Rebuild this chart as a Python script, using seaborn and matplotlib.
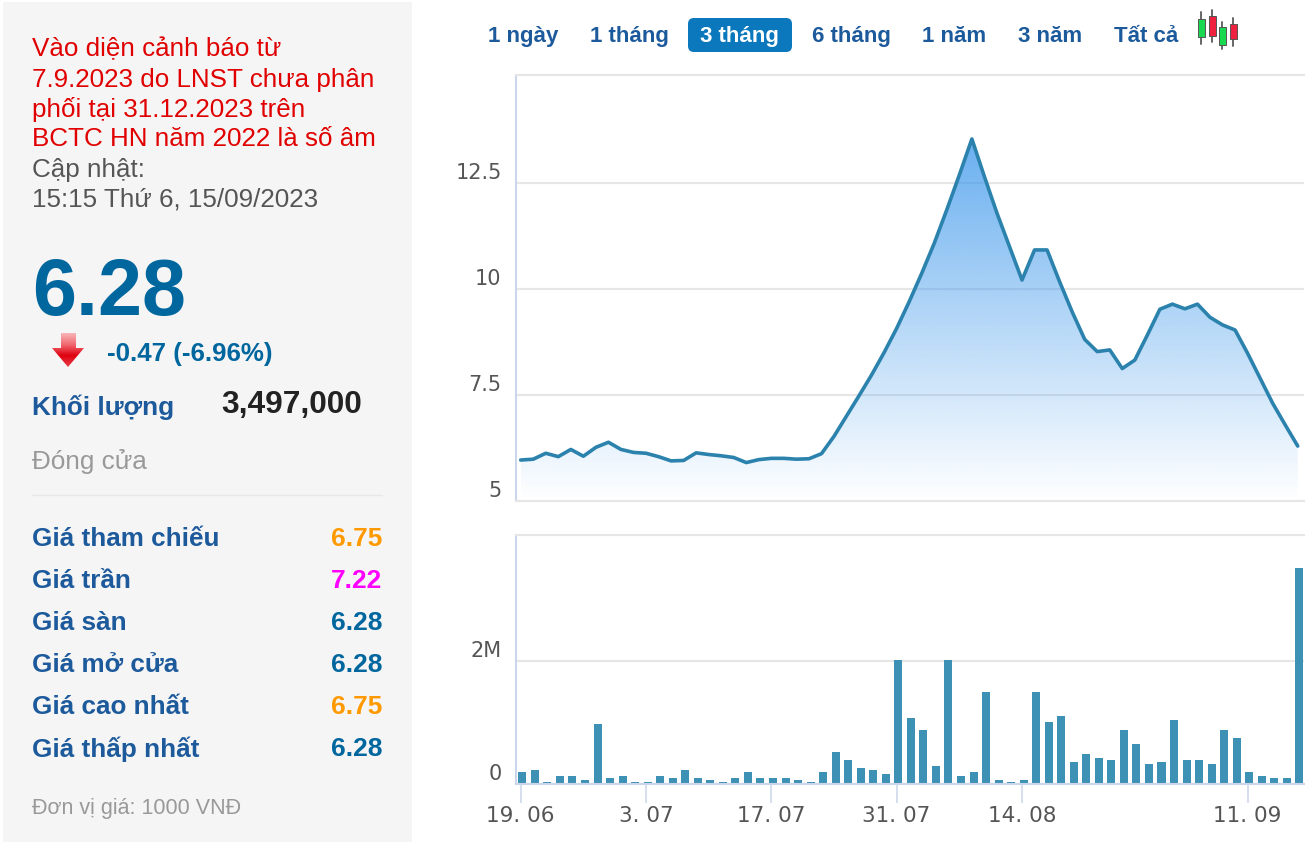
import numpy as np
import pandas as pd
import matplotlib
matplotlib.use("Agg")
import matplotlib.pyplot as plt
import seaborn as sns
from matplotlib.colors import LinearSegmentedColormap
from matplotlib.patches import FancyBboxPatch, Polygon, Rectangle

W, H = 1308, 842

# ── Data ─────────────────────────────────────────────────────────────────────
price = [5.96, 5.98, 6.12, 6.04, 6.21, 6.05, 6.26, 6.38, 6.21, 6.14, 6.12,
         6.04, 5.94, 5.95, 6.13, 6.09, 6.06, 6.02, 5.90, 5.97, 6.00, 6.00,
         5.98, 5.99, 6.11, 6.52, 7.00, 7.48, 7.97, 8.50, 9.07, 9.70, 10.37,
         11.08, 11.87, 12.69, 13.54, 12.65, 11.79, 11.00, 10.21, 10.92, 10.92,
         10.17, 9.46, 8.81, 8.52, 8.56, 8.12, 8.32, 8.91, 9.52, 9.64, 9.53,
         9.64, 9.33, 9.15, 9.03, 8.48, 7.89, 7.30, 6.79, 6.29]
volume = [195, 227, 32, 130, 130, 65, 973, 97, 130, 32, 32, 130, 97, 227, 97,
          65, 32, 97, 195, 97, 97, 97, 65, 32, 195, 519, 389, 259, 227, 162,
          2010, 1070, 876, 292, 2010, 130, 195, 1492, 65, 32, 65, 1492, 1005,
          1103, 357, 486, 422, 389, 876, 649, 324, 357, 1038, 389, 389, 324,
          876, 746, 195, 130, 97, 97, 3497]
session = list(range(len(price)))

price_ticks = [5, 7.5, 10, 12.5]
price_labels = ["5", "7.5", "10", "12.5"]
vol_ticks = [0, 2000]
vol_labels = ["0", "2M"]
date_ticks = [0, 10, 20, 30, 40, 58]
date_labels = ["19. 06", "3. 07", "17. 07", "31. 07", "14. 08", "11. 09"]

ranges = ["1 ngày", "1 tháng", "3 tháng", "6 tháng", "1 năm", "3 năm", "Tất cả"]
range_x = [488, 590, 700, 812, 922, 1018, 1114]

warning = ["Vào diện cảnh báo từ", "7.9.2023 do LNST chưa phân",
           "phối tại 31.12.2023 trên", "BCTC HN năm 2022 là số âm"]
quote_rows = ["Giá tham chiếu", "Giá trần", "Giá sàn", "Giá mở cửa",
              "Giá cao nhất", "Giá thấp nhất"]
quote_vals = ["6.75", "7.22", "6.28", "6.28", "6.75", "6.28"]
quote_cols = ["#ff9900", "#ff00ff", "#00669e", "#00669e", "#ff9900", "#00669e"]

df = pd.DataFrame({"session": session, "price": price, "volume": volume})

sns.set_style("white")
plt.rcParams["font.family"] = ["Liberation Sans", "DejaVu Sans"]

LINE = "#2b82ad"
BAR = "#3d91b5"
GRID = "#e6e6e6"
AXIS = "#ccd6eb"
TICK = "#555555"
NAVY = "#1c5a9c"
TEAL = "#00669e"


def px_axes(fig, left, top, right, bottom):
    return fig.add_axes([left / W, 1 - bottom / H, (right - left) / W, (bottom - top) / H])


fig = plt.figure(figsize=(W / 100, H / 100), dpi=100, facecolor="white")

# ── Left panel and buttons share a pixel overlay ─────────────────────────────
bg = fig.add_axes([0, 0, 1, 1], zorder=0)
bg.add_patch(Rectangle((3, 2), 409, 840, facecolor="#f6f5f6", edgecolor="none"))


def txt(x, y, s, size, color, weight="normal", ha="left"):
    bg.text(x, y, s, fontsize=size, color=color, fontweight=weight, ha=ha, va="center_baseline")


for i, line in enumerate(warning):
    txt(32, 47 + 30 * i, line, 18.7, "#e00000")
txt(32, 167, "Cập nhật:", 18.7, "#555555")
txt(32, 197, "15:15 Thứ 6, 15/09/2023", 18.7, "#555555")
txt(32, 286, "6.28", 57, TEAL, "bold")

# down arrow, pale at the top and red towards the tip
arrow_cmap = LinearSegmentedColormap.from_list(
    "arrow", ["#f8b4b8", "#f06a70", "#e00010", "#e8404a"])
arrow_img = bg.imshow(np.linspace(0, 1, 64).reshape(-1, 1), cmap=arrow_cmap,
                      extent=[52, 84, 367, 333], aspect="auto", zorder=2)
arrow = Polygon([(61, 333), (76, 333), (76, 348), (84, 348), (68, 367), (52, 348), (61, 348)],
                facecolor="none", edgecolor="none", transform=bg.transData)
bg.add_patch(arrow)
arrow_img.set_clip_path(arrow)

txt(107, 351, "-0.47 (-6.96%)", 18.6, TEAL, "bold")
txt(32, 405, "Khối lượng", 18.8, NAVY, "bold")
txt(221, 401, "3,497,000", 22.8, "#222222", "bold")
txt(32, 459, "Đóng cửa", 18.8, "#999999")
bg.plot([32, 382], [495, 495], color="#e8e8e8", lw=1)

for i, (label, val, col) in enumerate(zip(quote_rows, quote_vals, quote_cols)):
    y = 537 + 42 * i
    txt(32, y, label, 18.8, NAVY, "bold")
    txt(382, y, val, 19, col, "bold", ha="right")
txt(32, 806, "Đơn vị giá: 1000 VNĐ", 15.5, "#999999")

# range selector
bg.add_patch(FancyBboxPatch((688, 18), 104, 34, boxstyle="round,pad=0,rounding_size=6",
                            facecolor="#0b78bd", edgecolor="none"))
for x, label in zip(range_x, ranges):
    txt(x, 34, label, 16, "white" if label == "3 tháng" else NAVY, "bold")

# candlestick icon
for x, top, bottom, y0, y1, col in [(1201, 12, 44, 19, 37, "#18d850"), (1212, 10, 42, 16, 36, "#f0203f"),
                                    (1222, 22, 49, 27, 45, "#18d850"), (1233, 18, 46, 24, 39, "#f0203f")]:
    bg.plot([x, x], [top, bottom], color="#666666", lw=1.4, zorder=2)
    bg.add_patch(Rectangle((x - 3.5, y0), 7, y1 - y0, facecolor=col, edgecolor="#555555", lw=0.7, zorder=3))

bg.set_xlim(0, W)
bg.set_ylim(H, 0)
bg.axis("off")

# ── Price chart ──────────────────────────────────────────────────────────────
x_min, x_max = -0.415, 62.5
ax = px_axes(fig, 515.5, 75, 1304, 500.7)
ax.patch.set_alpha(0)
ax.set_axisbelow(True)
ax.grid(axis="y", color=GRID, lw=1.5)
sns.lineplot(data=df, x="session", y="price", color=LINE, lw=2.6, ax=ax, zorder=4)

# fill under the line, fading out towards the axis
area = ax.fill_between(session, price, 5, color="none")
peak = max(price)
grad = np.zeros((256, 1, 4))
grad[:, 0, :3] = np.array([58, 150, 235]) / 255
grad[:, 0, 3] = np.linspace(0.76, 0, 256)
im = ax.imshow(grad, extent=[session[0], session[-1], 5, peak], origin="upper",
               aspect="auto", zorder=3)
im.set_clip_path(area.get_paths()[0], transform=ax.transData)

ax.set_xlim(x_min, x_max)
ax.set_ylim(5, 15.05)
ax.set_xticks([])
ax.set_yticks(price_ticks, price_labels, va="bottom", fontsize=15, color=TICK,
              fontfamily="DejaVu Sans")
ax.tick_params(axis="y", length=0, pad=10)
ax.set_xlabel("")
ax.set_ylabel("")
for name, col in [("left", AXIS), ("top", GRID), ("bottom", GRID)]:
    ax.spines[name].set_color(col)
    ax.spines[name].set_linewidth(1.5)
ax.spines["right"].set_visible(False)

# ── Volume chart ─────────────────────────────────────────────────────────────
vx = px_axes(fig, 515.5, 535, 1304, 784)
vx.patch.set_alpha(0)
vx.set_axisbelow(True)
vx.grid(axis="y", color=GRID, lw=1.5)
sns.barplot(data=df, x="session", y="volume", native_scale=True, width=0.64,
            color=BAR, saturation=1, linewidth=0, ax=vx)
# the bars sit a touch to the right of their ticks in the original
for bar in vx.patches:
    bar.set_x(bar.get_x() + 0.13)
vx.set_xlim(x_min, x_max)
vx.set_ylim(0, 4040)
vx.set_yticks(vol_ticks, vol_labels, va="bottom", fontsize=15, color=TICK,
              fontfamily="DejaVu Sans")
vx.set_xticks(date_ticks, date_labels, fontsize=15.5, color=TICK, fontfamily="DejaVu Sans")
vx.tick_params(axis="y", length=0, pad=10)
vx.tick_params(axis="x", length=14, width=1.1, color=AXIS, pad=2, bottom=True)
vx.set_xlabel("")
vx.set_ylabel("")
for name, col in [("left", AXIS), ("top", GRID), ("bottom", AXIS)]:
    vx.spines[name].set_color(col)
    vx.spines[name].set_linewidth(1.5)
vx.spines["right"].set_visible(False)

fig.savefig("out.png", dpi=100)
